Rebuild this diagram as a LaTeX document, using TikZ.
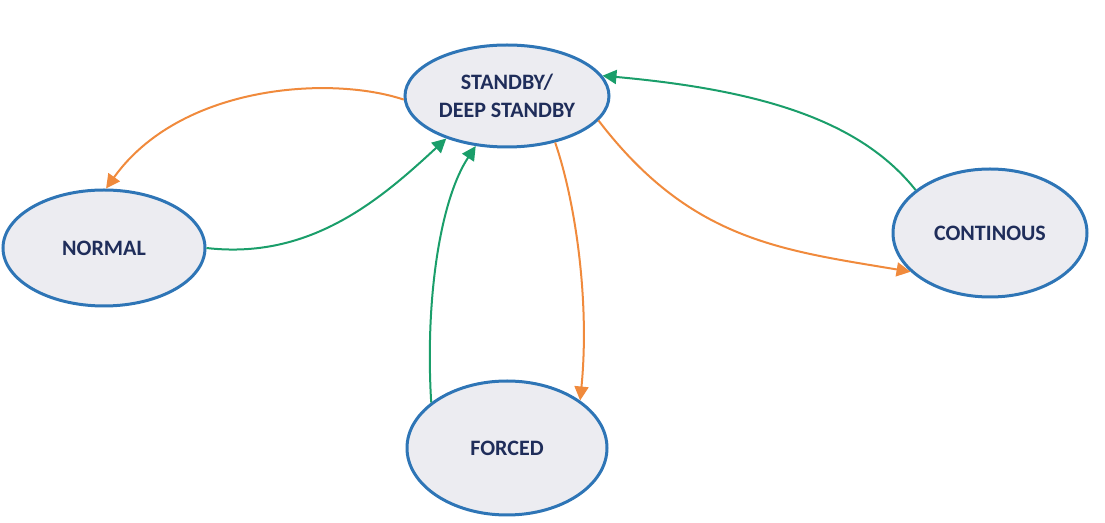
\documentclass[tikz,border=0pt]{standalone}
\usepackage{fontspec}
\setmainfont{Carlito}
\usetikzlibrary{shapes.geometric,arrows.meta}
\definecolor{eb}{HTML}{2E75B6}
\definecolor{ef}{HTML}{ECECF1}
\definecolor{tx}{HTML}{1F2D5A}
\definecolor{og}{HTML}{F08A3C}
\definecolor{gr}{HTML}{1A9E6A}
\begin{document}
\begin{tikzpicture}[x=0.5pt,y=-0.5pt,
 st/.style={ellipse,draw=eb,fill=ef,line width=1.5pt,inner sep=0pt,align=center,text=tx,font=\fontsize{11}{14}\selectfont\bfseries},
 oa/.style={draw=og,line width=1pt,-{Triangle[length=7pt,width=7pt]}},
 ga/.style={draw=gr,line width=1pt,-{Triangle[length=7pt,width=7pt]}}]
\useasboundingbox (0,0) rectangle (1105,523);
\node[st,minimum width=102pt,minimum height=51pt] (sb) at (507,96) {STANDBY/\\DEEP STANDBY};
\node[st,minimum width=101pt,minimum height=58pt] (no) at (104,248) {NORMAL};
\node[st,minimum width=97pt,minimum height=64pt] (co) at (990,233) {CONTINOUS};
\node[st,minimum width=100pt,minimum height=67pt] (fo) at (507,448) {FORCED};
\draw[oa] (sb.182) .. controls (330,75) and (180,85) .. (no.88);
\draw[ga] (no.0) .. controls (310,260) and (380,200) .. (sb.215);
\draw[ga] (fo.149) .. controls (425,300) and (440,200) .. (sb.238);
\draw[oa] (sb.316) .. controls (575,200) and (590,300) .. (fo.33);
\draw[oa] (sb.345) .. controls (690,240) and (780,250) .. (co.206);
\draw[ga] (co.150) .. controls (860,120) and (760,90) .. (sb.12);
\end{tikzpicture}
\end{document}
